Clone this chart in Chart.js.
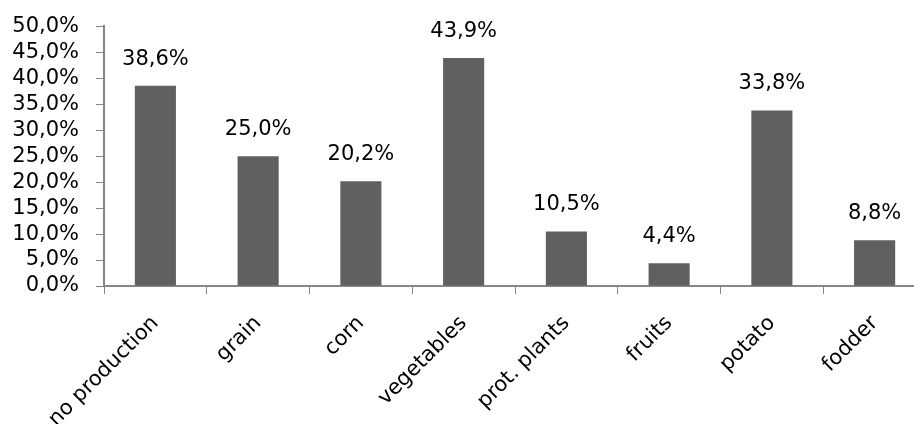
<!DOCTYPE html>
<html>
<head>
<meta charset="utf-8">
<script src="https://cdn.jsdelivr.net/npm/chart.js@4.4.1/dist/chart.umd.min.js"></script>
<style>
  html, body { margin: 0; padding: 0; background: #fff; overflow: hidden; }
  #wrap { width: 926px; height: 424px; }
</style>
</head>
<body>
<div id="wrap"><canvas id="chart" width="926" height="424"></canvas></div>
<script>
const categories = ['no production', 'grain', 'corn', 'vegetables', 'prot. plants', 'fruits', 'potato', 'fodder'];
const shares = [38.6, 25.0, 20.2, 43.9, 10.5, 4.4, 33.8, 8.8];
const yTicks = [0, 5, 10, 15, 20, 25, 30, 35, 40, 45, 50];

const fmt = (v) => v.toFixed(1).replace('.', ',') + '%';
const FONT = 'DejaVu Sans';
const SIZE = 21;

// values above the bars, drawn with the bar positions from the scale
const barLabels = {
  id: 'barLabels',
  afterDatasetsDraw(chart) {
    const ctx = chart.ctx;
    const meta = chart.getDatasetMeta(0);
    ctx.save();
    ctx.font = SIZE + 'px "' + FONT + '"';
    ctx.fillStyle = '#000';
    ctx.textAlign = 'center';
    ctx.textBaseline = 'bottom';
    meta.data.forEach((bar, i) => {
      ctx.fillText(fmt(shares[i]), bar.x, bar.y - 16);
    });
    ctx.restore();
  }
};

new Chart(document.getElementById('chart'), {
  type: 'bar',
  data: {
    labels: categories,
    datasets: [{
      data: shares,
      backgroundColor: '#606060',
      categoryPercentage: 1,
      barPercentage: 0.4
    }]
  },
  options: {
    responsive: false,
    animation: false,
    layout: { padding: { top: 25, left: 0, right: 0, bottom: 0 } },
    plugins: { legend: { display: false }, tooltip: { enabled: false } },
    scales: {
      x: {
        grid: { drawOnChartArea: false, tickLength: 8, color: '#868686', offset: true },
        border: { color: '#868686', width: 2 },
        ticks: {
          color: '#000',
          font: { family: FONT, size: SIZE },
          minRotation: 45,
          maxRotation: 45,
          padding: 17
        },
        afterFit(scale) { scale.height = 138; }
      },
      y: {
        min: 0,
        max: 50,
        grid: { drawOnChartArea: false, tickLength: 8, color: '#868686' },
        border: { color: '#868686', width: 2 },
        afterBuildTicks(scale) { scale.ticks = yTicks.map(v => ({ value: v })); },
        ticks: {
          autoSkip: false,
          color: '#000',
          font: { family: FONT, size: SIZE, lineHeight: 0.9 },
          padding: 17,
          callback: (v) => fmt(v)
        },
        afterFit(scale) { scale.width = 104; }
      }
    }
  },
  plugins: [barLabels]
});
</script>
</body>
</html>
